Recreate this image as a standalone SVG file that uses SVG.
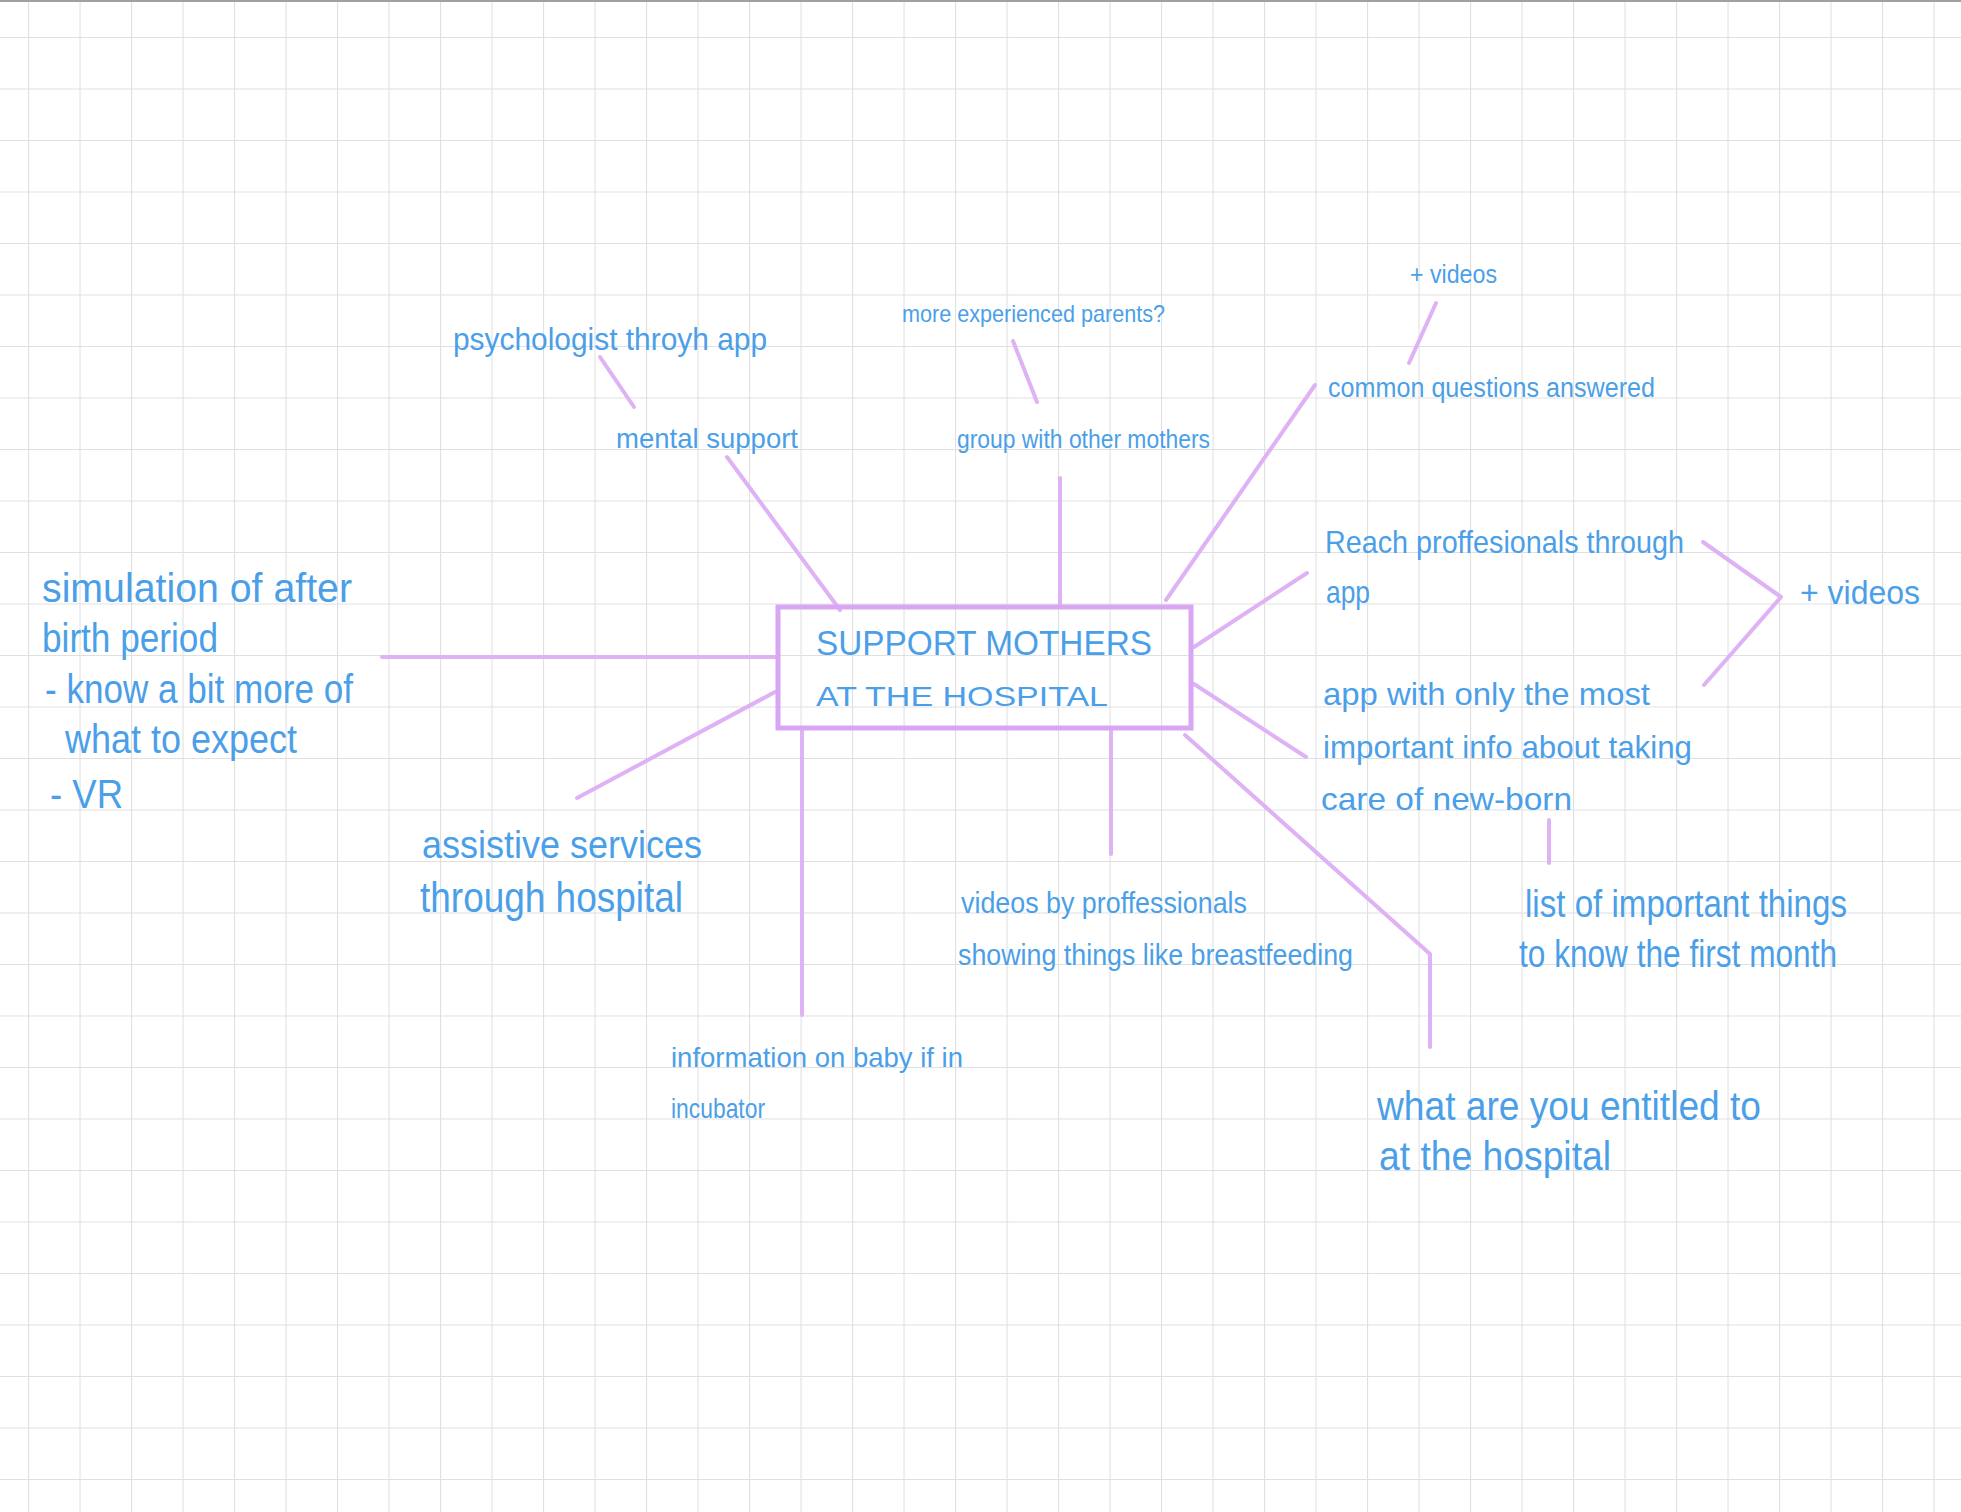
<svg xmlns="http://www.w3.org/2000/svg" width="1961" height="1512" viewBox="0 0 1961 1512">
<defs>
<pattern id="grid" x="28" y="37" width="51.5" height="51.5" patternUnits="userSpaceOnUse">
<path d="M0 0 V51.5 M0 0 H51.5" fill="none" stroke="#e0e0e0" stroke-width="2.2"/>
</pattern>
<style>
.t{font-family:"Liberation Sans",Arial,sans-serif;fill:#4b9fe8;}
.c{fill:none;stroke:#deb2f5;stroke-width:4;stroke-linecap:round;stroke-linejoin:round;}
.box{fill:none;stroke:#d8a6f2;stroke-width:5;}
</style>
</defs>
<rect width="1961" height="1512" fill="#ffffff"/>
<rect x="0" y="0" width="1961" height="1512" fill="url(#grid)"/>
<line x1="0" y1="1" x2="1961" y2="1" stroke="#a0a0a0" stroke-width="2"/>

<g id="connectors">
<line class="c" x1="382" y1="657" x2="778" y2="657"/>
<line class="c" x1="577" y1="798" x2="775" y2="692"/>
<line class="c" x1="727" y1="457" x2="840" y2="610"/>
<line class="c" x1="600" y1="357" x2="634" y2="407"/>
<line class="c" x1="1060" y1="478" x2="1060" y2="606"/>
<line class="c" x1="1013" y1="341" x2="1037" y2="402"/>
<line class="c" x1="1166" y1="600" x2="1315" y2="385"/>
<line class="c" x1="1436" y1="303" x2="1409" y2="363"/>
<line class="c" x1="1194" y1="647" x2="1307" y2="573"/>
<line class="c" x1="1194" y1="684" x2="1306" y2="757"/>
<polyline class="c" points="1185,735 1430,954 1430,1047"/>
<line class="c" x1="802" y1="731" x2="802" y2="1015"/>
<line class="c" x1="1111" y1="731" x2="1111" y2="854"/>
<line class="c" x1="1549" y1="820" x2="1549" y2="863"/>
<polyline class="c" points="1703,542 1781,597 1704,685"/>
</g>

<g id="center">
<rect class="box" x="778" y="607" width="413" height="121"/>
<text class="t" x="816" y="655" font-size="35" textLength="336" lengthAdjust="spacingAndGlyphs">SUPPORT MOTHERS</text>
<text class="t" x="816" y="706" font-size="28" textLength="292" lengthAdjust="spacingAndGlyphs">AT THE HOSPITAL</text>
</g>

<g id="simulation">
<text class="t" x="42" y="602" font-size="40" textLength="310" lengthAdjust="spacingAndGlyphs">simulation of after</text>
<text class="t" x="42" y="652" font-size="40" textLength="176" lengthAdjust="spacingAndGlyphs">birth period</text>
<text class="t" x="45" y="703" font-size="40" textLength="308" lengthAdjust="spacingAndGlyphs">- know a bit more of</text>
<text class="t" x="65" y="753" font-size="40" textLength="232" lengthAdjust="spacingAndGlyphs">what to expect</text>
<text class="t" x="50" y="808" font-size="40" textLength="73" lengthAdjust="spacingAndGlyphs">- VR</text>
</g>

<g id="assistive">
<text class="t" x="422" y="858" font-size="38" textLength="280" lengthAdjust="spacingAndGlyphs">assistive services</text>
<text class="t" x="420" y="912" font-size="42" textLength="263" lengthAdjust="spacingAndGlyphs">through hospital</text>
</g>

<g id="psychologist">
<text class="t" x="453" y="350" font-size="32" textLength="314" lengthAdjust="spacingAndGlyphs">psychologist throyh app</text>
</g>

<g id="mental">
<text class="t" x="616" y="448" font-size="28" textLength="182" lengthAdjust="spacingAndGlyphs">mental support</text>
</g>

<g id="experienced">
<text class="t" x="902" y="322" font-size="24" textLength="263" lengthAdjust="spacingAndGlyphs">more experienced parents?</text>
</g>

<g id="group">
<text class="t" x="957" y="448" font-size="25" textLength="253" lengthAdjust="spacingAndGlyphs">group with other mothers</text>
</g>

<g id="videos-top">
<text class="t" x="1410" y="283" font-size="26" textLength="87" lengthAdjust="spacingAndGlyphs">+ videos</text>
</g>

<g id="common">
<text class="t" x="1328" y="397" font-size="27" textLength="327" lengthAdjust="spacingAndGlyphs">common questions answered</text>
</g>

<g id="reach">
<text class="t" x="1325" y="553" font-size="32" textLength="359" lengthAdjust="spacingAndGlyphs">Reach proffesionals through</text>
<text class="t" x="1326" y="603" font-size="32" textLength="44" lengthAdjust="spacingAndGlyphs">app</text>
</g>

<g id="videos-right">
<text class="t" x="1800" y="604" font-size="34" textLength="120" lengthAdjust="spacingAndGlyphs">+ videos</text>
</g>

<g id="app">
<text class="t" x="1323" y="705" font-size="32" textLength="327" lengthAdjust="spacingAndGlyphs">app with only the most</text>
<text class="t" x="1323" y="758" font-size="32" textLength="369" lengthAdjust="spacingAndGlyphs">important info about taking</text>
<text class="t" x="1321" y="810" font-size="32" textLength="251" lengthAdjust="spacingAndGlyphs">care of new-born</text>
</g>

<g id="list">
<text class="t" x="1525" y="917" font-size="38" textLength="322" lengthAdjust="spacingAndGlyphs">list of important things</text>
<text class="t" x="1519" y="967" font-size="38" textLength="318" lengthAdjust="spacingAndGlyphs">to know the first month</text>
</g>

<g id="entitled">
<text class="t" x="1377" y="1120" font-size="40" textLength="384" lengthAdjust="spacingAndGlyphs">what are you entitled to</text>
<text class="t" x="1379" y="1170" font-size="40" textLength="232" lengthAdjust="spacingAndGlyphs">at the hospital</text>
</g>

<g id="videos-prof">
<text class="t" x="961" y="913" font-size="30" textLength="286" lengthAdjust="spacingAndGlyphs">videos by proffessionals</text>
<text class="t" x="958" y="965" font-size="30" textLength="395" lengthAdjust="spacingAndGlyphs">showing things like breastfeeding</text>
</g>

<g id="information">
<text class="t" x="671" y="1067" font-size="28" textLength="292" lengthAdjust="spacingAndGlyphs">information on baby if in</text>
<text class="t" x="671" y="1118" font-size="28" textLength="94" lengthAdjust="spacingAndGlyphs">incubator</text>
</g>
</svg>
